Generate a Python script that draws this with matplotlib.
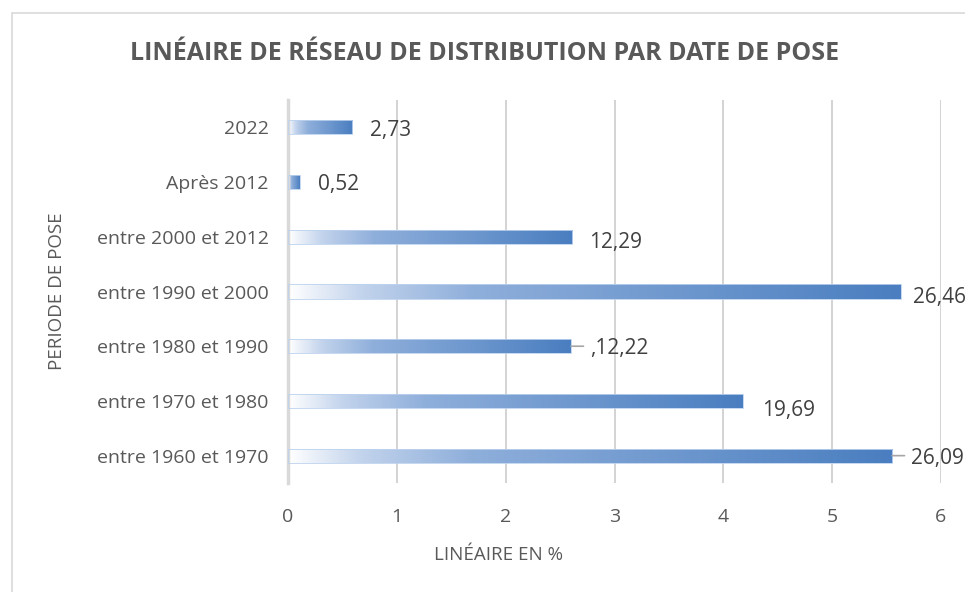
import numpy as np
import matplotlib
matplotlib.use("Agg")
import matplotlib.pyplot as plt
from matplotlib.colors import LinearSegmentedColormap
from matplotlib.patches import Rectangle

# data (bottom to top)
periodes = ["entre 1960 et 1970", "entre 1970 et 1980", "entre 1980 et 1990",
            "entre 1990 et 2000", "entre 2000 et 2012", "Après 2012", "2022"]
longueurs = [5.55, 4.18, 2.60, 5.63, 2.61, 0.11, 0.59]
etiquettes = ["26,09", "19,69", ",12,22", "26,46", "12,29", "0,52", "2,73"]
x_ticks = [0, 1, 2, 3, 4, 5, 6]

# label offsets in points (dx, dy) and whether a leader line is drawn
label_dx = [14, 14, 14, 9, 12, 13, 13]
label_dy = [-2, -7, -2, -4, -4, -2, -2]
leader = [True, False, True, False, False, False, False]

plt.rcParams['font.family'] = ['Open Sans', 'DejaVu Sans']
txt = "#595959"

fig = plt.figure(figsize=(9.65, 5.92), dpi=100)
fig.patches.append(Rectangle((12 / 965, -0.1), 1.2, 1 - 13 / 592 + 0.1,
                             transform=fig.transFigure, fill=False,
                             edgecolor="#d9d9d9", linewidth=1.2))
ax = fig.add_axes([288 / 965, 1 - 483 / 592, 653 / 965, 383 / 592])

cmap = LinearSegmentedColormap.from_list(
    "grad", [(0, "#ffffff"), (0.12, "#c2d3ec"), (0.3, "#8fafdb"), (1, "#4a7ec0")])
grad = np.linspace(0, 1, 256).reshape(1, -1)

y = np.arange(len(periodes))
bars = ax.barh(y, longueurs, height=0.26, facecolor="none",
               edgecolor="#bcd2ee", linewidth=0.6, zorder=3)
for b in bars:
    x0, y0, w, h = b.get_x(), b.get_y(), b.get_width(), b.get_height()
    im = ax.imshow(grad, extent=[x0, x0 + w, y0, y0 + h], aspect="auto",
                   cmap=cmap, zorder=2, interpolation="bilinear")
    im.set_clip_path(b)

for i, b in enumerate(bars):
    w = b.get_width()
    yc = b.get_y() + b.get_height() / 2
    ax.annotate(etiquettes[i], (w, yc), xytext=(label_dx[i], label_dy[i]),
                textcoords="offset points", ha="left", va="center",
                fontsize=15, color="#404040", zorder=4, annotation_clip=False)
    if leader[i]:
        ax.annotate("", (w, yc), xytext=(9, 0), textcoords="offset points",
                    arrowprops=dict(arrowstyle="-", color="#a6a6a6", lw=1.2,
                                    shrinkA=0, shrinkB=0))

ax.set_xlim(0, 6)
ax.set_ylim(-0.5, len(periodes) - 0.5)
ax.set_xticks(x_ticks)
ax.set_xticklabels([str(t) for t in x_ticks])
ax.set_yticks(y)
ax.set_yticklabels(periodes)
ax.grid(axis="x", color="#d0d0d0", linewidth=1.3, zorder=0)
ax.set_axisbelow(True)
for s in ["top", "right", "bottom"]:
    ax.spines[s].set_visible(False)
ax.spines["left"].set_color("#d9d9d9")
ax.spines["left"].set_linewidth(2.5)
ax.tick_params(axis="both", length=0, labelsize=14, colors=txt)
ax.tick_params(axis="x", pad=18)
ax.tick_params(axis="y", pad=14)
ax.set_xlabel("LINÉAIRE EN %", fontsize=13.5, color=txt)
ax.xaxis.set_label_coords(0.323, -0.165)
ax.set_ylabel("PERIODE DE POSE", fontsize=13.5, color=txt)
ax.yaxis.set_label_coords(-0.34, 0.5)

fig.text(485 / 965, 1 - 54 / 592, "LINÉAIRE DE RÉSEAU DE DISTRIBUTION PAR DATE DE POSE",
         ha="center", va="center", fontsize=18, fontweight="bold", color=txt)

fig.savefig("out.png", dpi=100)
